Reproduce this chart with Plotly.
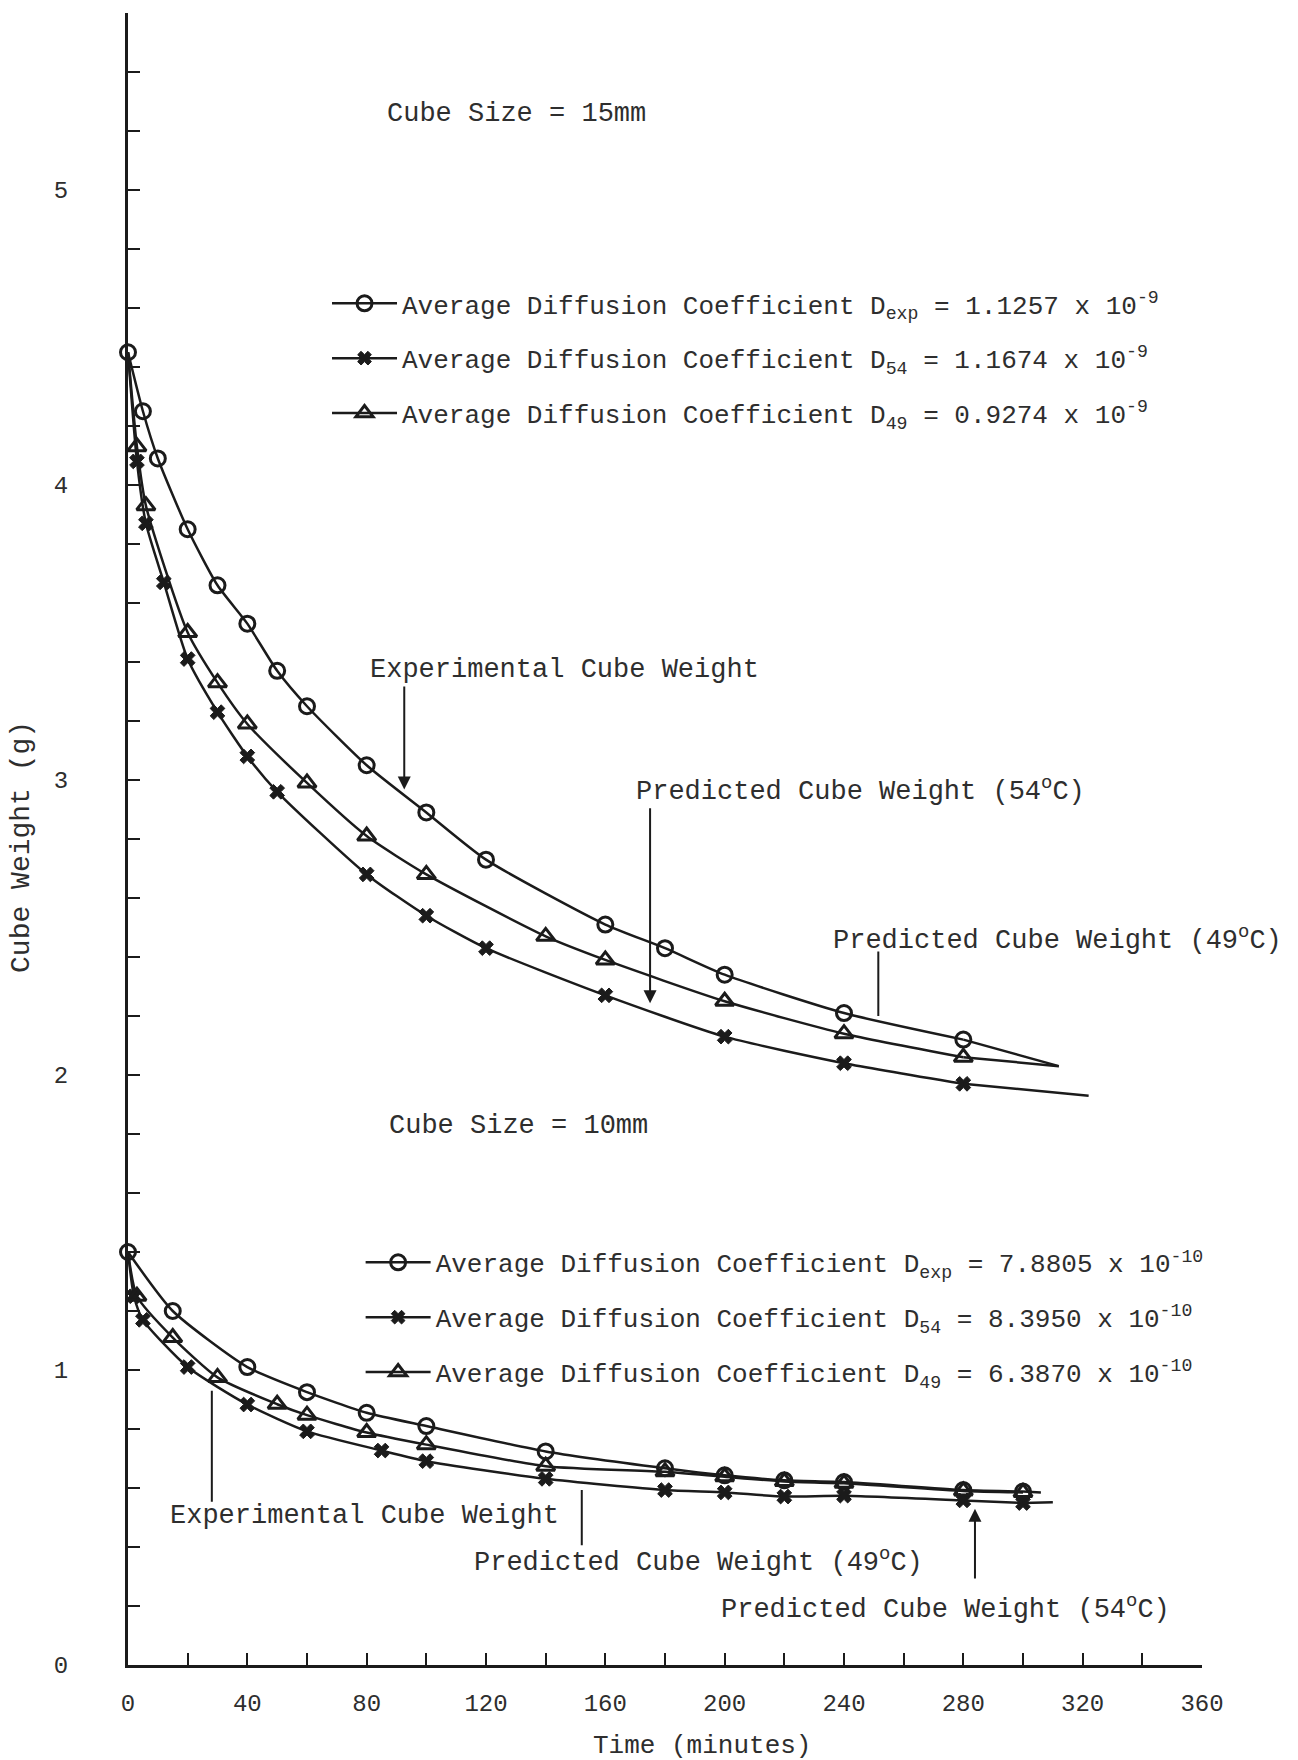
import plotly.graph_objects as go

# Drying curves: time in minutes, cube weight in grams.
# ---- 15 mm cubes ----
exp15_t = [0, 5, 10, 20, 30, 40, 50, 60, 80, 100, 120, 160, 180, 200, 240, 280]
exp15_w = [4.45, 4.25, 4.09, 3.85, 3.66, 3.53, 3.37, 3.25, 3.05, 2.89, 2.73, 2.51, 2.43, 2.34, 2.21, 2.12]
exp15_tail_t = [280, 312]
exp15_tail_w = [2.12, 2.03]

p54_15_t = [0, 3, 6, 12, 20, 30, 40, 50, 80, 100, 120, 160, 200, 240, 280]
p54_15_w = [4.45, 4.08, 3.87, 3.67, 3.41, 3.23, 3.08, 2.96, 2.68, 2.54, 2.43, 2.27, 2.13, 2.04, 1.97]
p54_15_tail_t = [280, 322]
p54_15_tail_w = [1.97, 1.93]

p49_15_t = [0, 3, 6, 20, 30, 40, 60, 80, 100, 140, 160, 200, 240, 280]
p49_15_w = [4.45, 4.13, 3.93, 3.50, 3.33, 3.19, 2.99, 2.81, 2.68, 2.47, 2.39, 2.25, 2.14, 2.06]
p49_15_tail_t = [280, 312]
p49_15_tail_w = [2.06, 2.03]

# ---- 10 mm cubes ----
exp10_t = [0, 15, 40, 60, 80, 100, 140, 180, 200, 220, 240, 280, 300]
exp10_w = [1.40, 1.20, 1.01, 0.925, 0.855, 0.81, 0.724, 0.667, 0.643, 0.626, 0.62, 0.593, 0.588]
exp10_tail_t = [300, 306]
exp10_tail_w = [0.588, 0.585]

p54_10_t = [0, 2, 5, 20, 40, 60, 85, 100, 140, 180, 200, 220, 240, 280, 300]
p54_10_w = [1.40, 1.25, 1.17, 1.01, 0.883, 0.792, 0.727, 0.691, 0.631, 0.593, 0.585, 0.571, 0.574, 0.558, 0.549]
p54_10_tail_t = [300, 310]
p54_10_tail_w = [0.549, 0.552]

p49_10_t = [0, 3, 15, 30, 50, 60, 80, 100, 140, 180, 200, 220, 240, 280, 300]
p49_10_w = [1.40, 1.25, 1.11, 0.975, 0.884, 0.847, 0.788, 0.747, 0.674, 0.655, 0.638, 0.622, 0.616, 0.59, 0.585]

# Legend captions (average diffusion coefficients)
names15 = [
    "Average Diffusion Coefficient D<sub>exp</sub> = 1.1257 x 10<sup>-9</sup>",
    "Average Diffusion Coefficient D<sub>54</sub> = 1.1674 x 10<sup>-9</sup>",
    "Average Diffusion Coefficient D<sub>49</sub> = 0.9274 x 10<sup>-9</sup>",
]
names10 = [
    "Average Diffusion Coefficient D<sub>exp</sub> = 7.8805 x 10<sup>-10</sup>",
    "Average Diffusion Coefficient D<sub>54</sub> = 8.3950 x 10<sup>-10</sup>",
    "Average Diffusion Coefficient D<sub>49</sub> = 6.3870 x 10<sup>-10</sup>",
]

FONT = "Liberation Mono, Courier New, monospace"
INK = "#1b1b1b"
TEXT = "#2e2e2e"

marker_styles = {
    "exp": dict(symbol="circle-open", size=15, line=dict(width=3, color=INK)),
    "p54": dict(symbol="x", size=13, line=dict(width=1, color=INK)),
    "p49": dict(symbol="triangle-up-open", size=16, line=dict(width=3, color=INK)),
}

fig = go.Figure()


def add_series(t, w, name, style, legend, group, mark_start=True):
    m = dict(marker_styles[style])
    m["color"] = INK
    m["opacity"] = 1
    if not mark_start:
        # predicted curves leave from the measured starting weight without a symbol of their own
        m["size"] = [0] + [m["size"]] * (len(t) - 1)
    fig.add_trace(go.Scatter(
        x=t, y=w, name=name, mode="lines+markers",
        line=dict(color=INK, width=2.5, shape="spline", smoothing=0.6),
        marker=m, legend=legend, legendgroup=group, cliponaxis=False,
    ))


def add_tail(t, w):
    fig.add_trace(go.Scatter(
        x=t, y=w, mode="lines", showlegend=False,
        line=dict(color=INK, width=2.5), hoverinfo="skip",
    ))


add_series(exp15_t, exp15_w, names15[0], "exp", "legend", "a15")
add_series(p54_15_t, p54_15_w, names15[1], "p54", "legend", "b15", mark_start=False)
add_series(p49_15_t, p49_15_w, names15[2], "p49", "legend", "c15", mark_start=False)
add_tail(exp15_tail_t, exp15_tail_w)
add_tail(p54_15_tail_t, p54_15_tail_w)
add_tail(p49_15_tail_t, p49_15_tail_w)

add_series(exp10_t, exp10_w, names10[0], "exp", "legend2", "a10")
add_series(p54_10_t, p54_10_w, names10[1], "p54", "legend2", "b10", mark_start=False)
add_series(p49_10_t, p49_10_w, names10[2], "p49", "legend2", "c10", mark_start=False)
add_tail(exp10_tail_t, exp10_tail_w)
add_tail(p54_10_tail_t, p54_10_tail_w)

deg = "<sup>o</sup>C"
labels = [
    ("Cube Size = 15mm", 86.2, 5.256),
    ("Experimental Cube Weight", 80.5, 3.372),
    ("Predicted Cube Weight (54" + deg + ")", 169.7, 2.968),
    ("Predicted Cube Weight (49" + deg + ")", 235.6, 2.462),
    ("Cube Size = 10mm", 86.9, 1.826),
    ("Experimental Cube Weight", 13.5, 0.506),
    ("Predicted Cube Weight (49" + deg + ")", 115.2, 0.354),
    ("Predicted Cube Weight (54" + deg + ")", 198.0, 0.194),
]
annotations = [
    dict(text=txt, x=x, y=y, xref="x", yref="y", xanchor="left", yanchor="middle",
         showarrow=False, font=dict(family=FONT, size=27, color=TEXT))
    for txt, x, y in labels
]

# Pointer lines: (x, tip y, tail y, arrowhead)
pointers = [
    (92.6, 2.968, 3.322, 2),
    (175.0, 2.243, 2.909, 2),
    (251.5, 2.20, 2.424, 0),
    (28.1, 0.93, 0.548, 0),
    (152.1, 0.593, 0.401, 0),
    (283.9, 0.53, 0.288, 2),
]
for x, tip, tail, head in pointers:
    annotations.append(dict(
        x=x, y=tip, ax=x, ay=tail, xref="x", yref="y", axref="x", ayref="y",
        text="", showarrow=True, arrowhead=head, arrowsize=1.3, arrowwidth=2,
        arrowcolor=INK, standoff=0, startstandoff=0,
    ))

annotations.append(dict(
    text="Cube Weight (g)", textangle=-90, x=-0.099, y=0.495, xref="paper", yref="paper",
    xanchor="center", yanchor="middle",
    showarrow=False, font=dict(family=FONT, size=28, color=TEXT),
))
annotations.append(dict(
    text="Time (minutes)", x=0.534, y=-0.049, xref="paper", yref="paper",
    xanchor="center", yanchor="middle",
    showarrow=False, font=dict(family=FONT, size=26, color=TEXT),
))

legend_common = dict(
    xanchor="left", yanchor="top", bgcolor="rgba(0,0,0,0)",
    font=dict(family=FONT, size=26, color=TEXT), traceorder="grouped",
    tracegroupgap=18, itemwidth=65, itemclick=False,
)

fig.update_layout(
    width=1298, height=1760,
    margin=dict(l=128, r=96, t=13, b=95),
    paper_bgcolor="white", plot_bgcolor="white",
    showlegend=True,
    legend=dict(x=0.1853, y=0.8384, **legend_common),
    legend2=dict(x=0.2166, y=0.2579, **legend_common),
    annotations=annotations,
    xaxis=dict(
        range=[0, 360], showgrid=False, zeroline=False,
        showline=True, linecolor=INK, linewidth=3,
        tick0=0, dtick=40, ticks="inside", ticklen=12, tickwidth=2, tickcolor=INK,
        minor=dict(dtick=20, ticks="inside", ticklen=12, tickwidth=2, tickcolor=INK),
        tickfont=dict(family=FONT, size=24, color=TEXT), ticklabelstandoff=14,
    ),
    yaxis=dict(
        range=[0, 5.6], showgrid=False, zeroline=False,
        showline=True, linecolor=INK, linewidth=3,
        tick0=0, dtick=1, ticks="inside", ticklen=12, tickwidth=2, tickcolor=INK,
        minor=dict(dtick=0.2, ticks="inside", ticklen=12, tickwidth=2, tickcolor=INK),
        tickfont=dict(family=FONT, size=24, color=TEXT), ticklabelstandoff=52,
    ),
)

fig.write_html("out.html")
